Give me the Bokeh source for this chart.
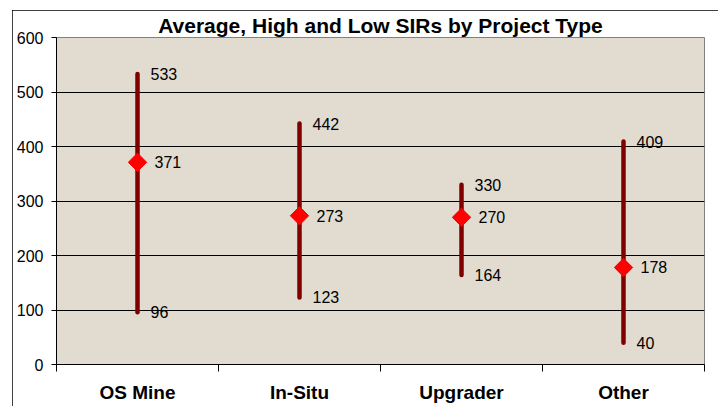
import math
from bokeh.plotting import figure
from bokeh.models import Range1d, FixedTicker, ColumnDataSource
from bokeh.core.properties import value
from bokeh.embed import file_html
from bokeh.resources import INLINE

# ---- data ----
categories = ["OS Mine", "In-Situ", "Upgrader", "Other"]
high = [533, 442, 330, 409]
average = [371, 273, 270, 178]
low = [96, 123, 164, 40]
y_ticks = [0, 100, 200, 300, 400, 500, 600]

xpos = [i + 0.5 for i in range(len(categories))]
src = ColumnDataSource(dict(
    x=xpos, high=high, avg=average, low=low,
    high_t=[str(v) for v in high], avg_t=[str(v) for v in average], low_t=[str(v) for v in low],
))

FONT = "Liberation Sans"

p = figure(width=706, height=396, output_backend="svg", toolbar_location=None,
           x_range=Range1d(0, len(categories)), y_range=Range1d(0, 600),
           title="Average, High and Low SIRs by Project Type",
           min_border_left=44, min_border_right=14, min_border_top=27, min_border_bottom=42,
           x_axis_location="below")
p.margin = (10, 0, 0, 12)
p.styles = {"outline": "1px solid black", "outline-offset": "-1px"}

p.title.text_font = FONT
p.title.text_font_size = "21px"
p.title.text_font_style = "bold"
p.title.align = "center"
p.title.text_color = "black"
p.title.standoff = 2

p.background_fill_color = "#E2DBD0"
p.border_fill_color = "white"
p.outline_line_color = "#808080"
p.outline_line_width = 1

# grid
p.xgrid.visible = False
p.ygrid.ticker = FixedTicker(ticks=[100, 200, 300, 400, 500])
p.ygrid.grid_line_color = "black"
p.ygrid.grid_line_width = 1

# y axis
ya = p.yaxis[0]
ya.ticker = FixedTicker(ticks=y_ticks)
ya.axis_line_color = "black"
ya.major_tick_line_color = "black"
ya.major_tick_out = 5
ya.major_tick_in = 0
ya.minor_tick_line_color = None
ya.major_label_text_font = FONT
ya.major_label_text_font_size = "16px"
ya.major_label_text_color = "black"
ya.major_label_standoff = 8

# x axis: labels at centers, ticks at boundaries (minor ticks)
xa = p.xaxis[0]
xa.ticker = FixedTicker(ticks=xpos, minor_ticks=list(range(len(categories) + 1)))
xa.major_label_overrides = {x: c for x, c in zip(xpos, categories)}
xa.axis_line_color = "black"
xa.major_tick_line_color = None
xa.major_tick_out = 0
xa.major_tick_in = 0
xa.minor_tick_line_color = "black"
xa.minor_tick_out = 7
xa.minor_tick_in = 0
xa.major_label_text_font = FONT
xa.major_label_text_font_size = "19px"
xa.major_label_text_font_style = "bold"
xa.major_label_text_color = "black"
xa.major_label_standoff = 10

# high-low lines
p.segment(x0="x", y0="low", x1="x", y1="high", source=src,
          line_color="#800000", line_width=4.5, line_cap="round")
# average markers
p.scatter(x="x", y="avg", source=src, marker="square", angle=math.pi / 4,
          size=13, fill_color="#FF0000", line_color="#FF0000")

# labels
common = dict(source=src, text_font=value(FONT), text_font_size="16px",
              text_color="black", text_baseline="middle", text_align="left")
p.text(x="x", y="high", text="high_t", x_offset=13, **common)
p.text(x="x", y="low", text="low_t", x_offset=13, **common)
p.text(x="x", y="avg", text="avg_t", x_offset=17, **common)

open("out.html", "w").write(file_html(p, INLINE))
